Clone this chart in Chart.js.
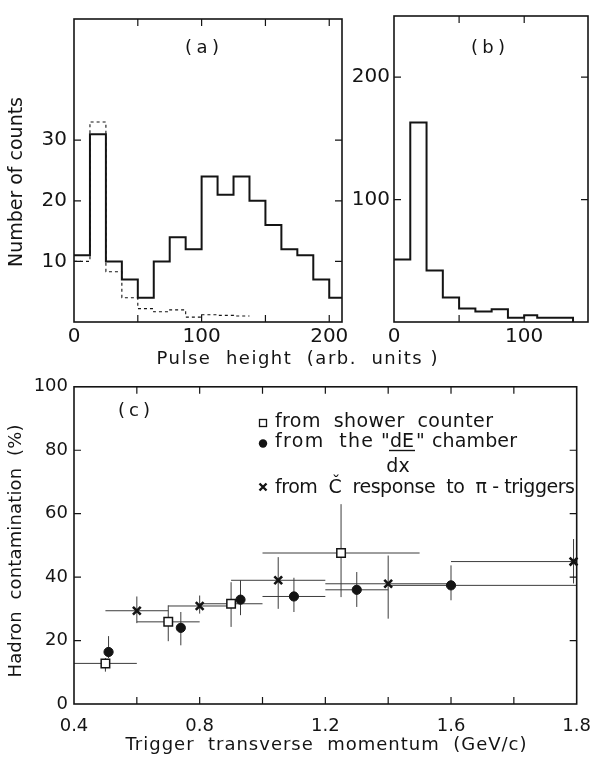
<!DOCTYPE html>
<html>
<head>
<meta charset="utf-8">
<script src="https://cdn.jsdelivr.net/npm/chart.js@4.4.1/dist/chart.umd.min.js"></script>
<style>
  html, body { margin: 0; padding: 0; background: #fff; }
  #wrap { position: relative; width: 603px; height: 760px; overflow: hidden; background: #fff; }
  canvas { position: absolute; }
</style>
</head>
<body>
<div id="wrap">
  <canvas id="chartA" width="450" height="370" style="left:0;top:0"></canvas>
  <canvas id="chartB" width="263" height="370" style="left:340px;top:0"></canvas>
  <canvas id="chartC" width="603" height="390" style="left:0;top:370px"></canvas>
</div>
<script>
// ---- data ----

// (a) pulse height, solid and dashed histograms
const binEdgesA = [0, 12.5, 25, 37.5, 50, 62.5, 75, 87.5, 100, 112.5, 125, 137.5, 150, 162.5, 175, 187.5, 200, 212.5];
const countsA = [11, 31, 10, 7, 4, 10, 14, 12, 24, 21, 24, 20, 16, 12, 11, 7, 4];
const countsDashA = [10, 33, 8.3, 4, 2.2, 1.7, 2, 0.8, 1.2, 1.1, 1.0];

// (b) pulse height histogram
const binEdgesB = [0, 12.5, 25, 37.5, 50, 62.5, 75, 87.5, 100, 110, 125, 137.5];
const countsB = [51, 163, 42, 20, 11, 8.5, 10.5, 3.5, 5.5, 3.5, 3.5];

// (c) hadron contamination vs trigger pT
const showerX = [0.50, 0.70, 0.90, 1.25];
const showerY = [12.8, 25.9, 31.6, 47.6];
const showerXLo = [0.40, 0.60, 0.80, 1.00];
const showerXHi = [0.60, 0.80, 1.00, 1.50];
const showerYLo = [10.2, 19.8, 24.3, 33.7];
const showerYHi = [14.5, 31.1, 38.4, 63.0];

const dedxX = [0.51, 0.74, 0.93, 1.10, 1.30, 1.60];
const dedxY = [16.4, 24.0, 32.9, 33.9, 36.0, 37.4];
const dedxXLo = [null, null, null, 1.0, 1.2, 1.4];
const dedxXHi = [null, null, null, 1.2, 1.4, 2.0];
const dedxYLo = [14.5, 18.5, 28.0, 29.0, 30.6, 32.7];
const dedxYHi = [21.4, 29.0, 39.0, 39.8, 41.6, 43.7];

const cherX = [0.60, 0.80, 1.05, 1.40, 1.99];
const cherY = [29.4, 30.9, 39.0, 37.9, 44.9];
const cherXLo = [0.5, 0.7, 0.9, 1.2, 1.6];
const cherXHi = [0.7, 0.9, 1.2, 1.6, 2.0];
const cherYLo = [25.5, 28.5, 30.0, 26.9, 38.0];
const cherYHi = [33.9, 34.2, 46.3, 46.8, 52.0];

// ticks
const tickLabelsAX = [0, 100, 200];
const tickMarksAX = [50, 100, 150, 200];
const tickLabelsAY = [10, 20, 30];
const tickLabelsBX = [0, 100];
const tickMarksBX = [50, 100];
const tickLabelsBY = [100, 200];
const tickPosCX = [0.4, 0.8, 1.2, 1.6, 2.0];
const tickTextCX = ['0.4', '0.8', '1.2', '1.6', '1.8'];
const tickMarksCX = [0.6, 0.8, 1.0, 1.2, 1.4, 1.6, 1.8];
const tickLabelsCY = [0, 20, 40, 60, 80, 100];
const tickMarksCY = [20, 40, 60, 80];

// ---- helpers ----
const FONT = '"DejaVu Sans", sans-serif';
const INK = '#141414';
Chart.defaults.font.family = FONT;
Chart.defaults.color = INK;

function stepPoints(edges, counts, dropToZero) {
  const pts = counts.map((c, i) => ({ x: edges[i], y: c }));
  pts.push({ x: edges[counts.length], y: counts[counts.length - 1] });
  if (dropToZero) pts.push({ x: edges[counts.length], y: 0 });
  return pts;
}

function toPoints(xs, ys) {
  return xs.map((x, i) => ({ x: x, y: ys[i] }));
}

// old lettering is widely spaced: stretch a string to a given width
function spacedText(ctx, text, x, y, width) {
  ctx.letterSpacing = '0px';
  const natural = ctx.measureText(text).width;
  ctx.letterSpacing = ((width - natural) / Math.max(text.length - 1, 1)) + 'px';
  ctx.textAlign = 'left';
  ctx.fillText(text, x, y);
  ctx.letterSpacing = '0px';
}

// box round the plot with tick marks pointing inwards
function framePlugin(xMarks, yMarks) {
  return {
    id: 'frame',
    afterDatasetsDraw(chart) {
      const { ctx, chartArea: { left, right, top, bottom }, scales: { x, y } } = chart;
      ctx.save();
      ctx.strokeStyle = INK;
      ctx.lineWidth = 1.6;
      ctx.strokeRect(left, top, right - left, bottom - top);
      ctx.lineWidth = 1.2;
      const len = 7;
      ctx.beginPath();
      xMarks.forEach(v => {
        const px = x.getPixelForValue(v);
        ctx.moveTo(px, bottom); ctx.lineTo(px, bottom - len);
        ctx.moveTo(px, top); ctx.lineTo(px, top + len);
      });
      yMarks.forEach(v => {
        const py = y.getPixelForValue(v);
        ctx.moveTo(left, py); ctx.lineTo(left + len, py);
        ctx.moveTo(right, py); ctx.lineTo(right - len, py);
      });
      ctx.stroke();
      ctx.restore();
    }
  };
}

// free text (titles, panel letters), centred on x,y and stretched to width
function textPlugin(items) {
  return {
    id: 'texts',
    afterDraw(chart) {
      const ctx = chart.ctx;
      items.forEach(t => {
        ctx.save();
        ctx.fillStyle = INK;
        ctx.font = t.size + 'px ' + FONT;
        ctx.textBaseline = 'middle';
        ctx.translate(t.x, t.y);
        if (t.rot) ctx.rotate(-Math.PI / 2);
        spacedText(ctx, t.text, -t.width / 2, 0, t.width);
        ctx.restore();
      });
    }
  };
}

const errorBars = {
  id: 'errorBars',
  beforeDatasetsDraw(chart) {
    const { ctx, scales: { x, y } } = chart;
    ctx.save();
    ctx.strokeStyle = '#3c3c3c';
    ctx.lineWidth = 1;
    chart.data.datasets.forEach(ds => {
      ds.data.forEach((p, i) => {
        const px = x.getPixelForValue(p.x);
        const py = y.getPixelForValue(p.y);
        ctx.beginPath();
        if (ds.xLo && ds.xLo[i] != null) {
          ctx.moveTo(x.getPixelForValue(ds.xLo[i]), py);
          ctx.lineTo(x.getPixelForValue(ds.xHi[i]), py);
        }
        if (ds.yLo && ds.yLo[i] != null) {
          ctx.moveTo(px, y.getPixelForValue(ds.yLo[i]));
          ctx.lineTo(px, y.getPixelForValue(ds.yHi[i]));
        }
        ctx.stroke();
      });
    });
    ctx.restore();
  }
};

// legend inside panel (c)
const legendC = {
  id: 'legendC',
  afterDraw(chart) {
    const ctx = chart.ctx;
    ctx.save();
    ctx.fillStyle = INK;
    ctx.strokeStyle = INK;
    ctx.font = '19px ' + FONT;
    ctx.textBaseline = 'alphabetic';
    // open square
    ctx.lineWidth = 1.3;
    ctx.fillStyle = '#fff';
    ctx.fillRect(259.5, 49.5, 7, 7);
    ctx.strokeRect(259.5, 49.5, 7, 7);
    ctx.fillStyle = INK;
    spacedText(ctx, 'from  shower  counter', 275, 57, 218);
    // filled circle
    ctx.beginPath();
    ctx.arc(263, 73.5, 4.2, 0, Math.PI * 2);
    ctx.fill();
    spacedText(ctx, 'from  the', 275, 77, 98);
    ctx.textAlign = 'left';
    ctx.fillText('"', 381, 77);
    ctx.textAlign = 'center';
    ctx.fillText('dE', 402, 77);
    ctx.fillText('dx', 398, 102);
    ctx.lineWidth = 1.4;
    ctx.beginPath();
    ctx.moveTo(389, 80.5); ctx.lineTo(415, 80.5);
    ctx.stroke();
    ctx.textAlign = 'left';
    ctx.fillText('"', 416, 77);
    spacedText(ctx, 'chamber', 432, 77, 85);
    // cross
    ctx.lineWidth = 2.4;
    ctx.beginPath();
    ctx.moveTo(259.5, 113.5); ctx.lineTo(266.5, 120.5);
    ctx.moveTo(266.5, 113.5); ctx.lineTo(259.5, 120.5);
    ctx.stroke();
    spacedText(ctx, 'from  Č  response  to  π - triggers', 275, 123, 300);
    ctx.restore();
  }
};

function axisX(min, max, labels, height, padding, size, textFor) {
  return {
    type: 'linear', min: min, max: max,
    grid: { display: false, drawTicks: false },
    border: { display: false },
    afterBuildTicks: s => { s.ticks = labels.map(v => ({ value: v })); },
    afterFit: s => { s.height = height; },
    ticks: {
      padding: padding, autoSkip: false, maxRotation: 0, color: INK,
      font: { size: size },
      callback: textFor || (v => String(v))
    }
  };
}

function axisY(min, max, labels, width, padding, size) {
  return {
    type: 'linear', min: min, max: max,
    grid: { display: false, drawTicks: false },
    border: { display: false },
    afterBuildTicks: s => { s.ticks = labels.map(v => ({ value: v })); },
    afterFit: s => { s.width = width; },
    ticks: { padding: padding, color: INK, font: { size: size }, callback: v => String(v) }
  };
}

const common = {
  responsive: false,
  animation: false,
  events: [],
  plugins: { legend: { display: false }, tooltip: { enabled: false } }
};

// ---- panel (a) ----
new Chart(document.getElementById('chartA'), {
  type: 'scatter',
  data: {
    datasets: [
      {
        data: stepPoints(binEdgesA, countsA, true),
        showLine: true, stepped: 'before', borderColor: INK, borderWidth: 2,
        pointRadius: 0
      },
      {
        data: stepPoints(binEdgesA, countsDashA, false),
        showLine: true, stepped: 'before', borderColor: INK, borderWidth: 1.1,
        borderDash: [3, 3], pointRadius: 0
      }
    ]
  },
  options: Object.assign({}, common, {
    layout: { padding: { left: 0, right: 108, top: 6, bottom: 0 } },
    scales: {
      x: axisX(0, 210, tickLabelsAX, 48, 3, 20),
      y: axisY(0, 50, tickLabelsAY, 74, 7, 20)
    }
  }),
  plugins: [
    framePlugin(tickMarksAX, tickLabelsAY),
    textPlugin([
      { text: 'Number of counts', x: 17, y: 182, size: 19, rot: true, width: 170 },
      { text: '(a)', x: 202, y: 48, size: 18, width: 34 },
      { text: 'Pulse  height  (arb.  units )', x: 297, y: 359, size: 18, width: 281 }
    ])
  ]
});

// ---- panel (b) ----
new Chart(document.getElementById('chartB'), {
  type: 'scatter',
  data: {
    datasets: [
      {
        data: stepPoints(binEdgesB, countsB, true),
        showLine: true, stepped: 'before', borderColor: INK, borderWidth: 2,
        pointRadius: 0
      }
    ]
  },
  options: Object.assign({}, common, {
    layout: { padding: { left: 0, right: 15, top: 6, bottom: 0 } },
    scales: {
      x: axisX(0, 149, tickLabelsBX, 48, 3, 20),
      y: axisY(0, 250, tickLabelsBY, 54, 4, 20)
    }
  }),
  plugins: [
    framePlugin(tickMarksBX, tickLabelsBY),
    textPlugin([{ text: '(b)', x: 148, y: 48, size: 18, width: 34 }])
  ]
});

// ---- panel (c) ----
new Chart(document.getElementById('chartC'), {
  type: 'scatter',
  data: {
    datasets: [
      {
        label: 'from shower counter',
        data: toPoints(showerX, showerY),
        xLo: showerXLo, xHi: showerXHi, yLo: showerYLo, yHi: showerYHi,
        pointStyle: 'rect', pointRadius: 6, pointBackgroundColor: '#fff',
        pointBorderColor: INK, pointBorderWidth: 1.5, clip: false
      },
      {
        label: 'from the dE/dx chamber',
        data: toPoints(dedxX, dedxY),
        xLo: dedxXLo, xHi: dedxXHi, yLo: dedxYLo, yHi: dedxYHi,
        pointStyle: 'circle', pointRadius: 4.6, pointBackgroundColor: INK,
        pointBorderColor: INK, pointBorderWidth: 1, clip: false
      },
      {
        label: 'from C response to pi-triggers',
        data: toPoints(cherX, cherY),
        xLo: cherXLo, xHi: cherXHi, yLo: cherYLo, yHi: cherYHi,
        pointStyle: 'crossRot', pointRadius: 5.5, pointBorderColor: INK,
        pointBorderWidth: 2.6, clip: false
      }
    ]
  },
  options: Object.assign({}, common, {
    layout: { padding: { left: 0, right: 16, top: 16, bottom: 0 } },
    scales: {
      x: axisX(0.4, 2.0, tickPosCX, 56, 12, 18, v => tickTextCX[tickPosCX.indexOf(v)]),
      y: axisY(0, 100, tickLabelsCY, 74, 6, 18)
    }
  }),
  plugins: [
    errorBars,
    framePlugin(tickMarksCX, tickMarksCY),
    legendC,
    textPlugin([
      { text: 'Hadron  contamination  (%)', x: 16, y: 181, size: 18, rot: true, width: 253 },
      { text: '(c)', x: 134, y: 41, size: 18, width: 32 },
      { text: 'Trigger  transverse  momentum  (GeV/c)', x: 326, y: 375, size: 18, width: 401 }
    ])
  ]
});
</script>
</body>
</html>
